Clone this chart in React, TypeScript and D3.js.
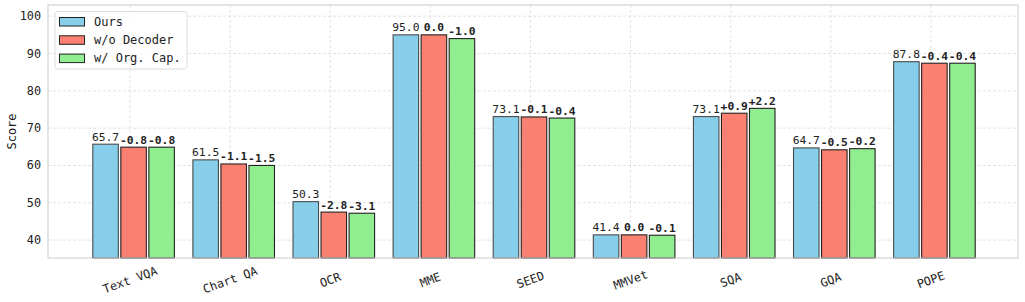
import React from "react";
import * as d3 from "d3";

const categories = ["Text VQA", "Chart QA", "OCR", "MME", "SEED", "MMVet", "SQA", "GQA", "POPE"];
const oursValues = [65.7, 61.5, 50.3, 95.0, 73.1, 41.4, 73.1, 64.7, 87.8];
const noDecoderDelta = [-0.8, -1.1, -2.8, 0.0, -0.1, 0.0, 0.9, -0.5, -0.4];
const orgCapDelta = [-0.8, -1.5, -3.1, -1.0, -0.4, -0.1, 2.2, -0.2, -0.4];
const seriesNames = ["Ours", "w/o Decoder", "w/ Org. Cap."];
const seriesColors = ["#87CEEB", "#FA8072", "#90EE90"];
const yTicks = [40, 50, 60, 70, 80, 90, 100];

const W = 1025, H = 302;
const left = 48, right = 1018, top = 5, bottom = 258;
const FONT = "'DejaVu Sans Mono', monospace";

function fmtDelta(d: number) {
  if (d === 0) return "0.0";
  return (d > 0 ? "+" : "") + d.toFixed(1);
}

export default function App() {
  const x = d3.scaleLinear().domain([-0.82, 8.87]).range([left, right]);
  const y = d3.scaleLinear().domain([35.2, 103]).range([bottom, top]);
  const unit = x(1) - x(0);
  const barW = 0.255 * unit;
  const step = 0.28;
  const shift = 0.035;

  const series = [
    oursValues,
    oursValues.map((v, i) => +(v + noDecoderDelta[i]).toFixed(1)),
    oursValues.map((v, i) => +(v + orgCapDelta[i]).toFixed(1)),
  ];
  const labels = [
    oursValues.map((v) => v.toFixed(1)),
    noDecoderDelta.map(fmtDelta),
    orgCapDelta.map(fmtDelta),
  ];

  return (
    <svg width={W} height={H} style={{ position: "absolute", left: 0, top: 0, background: "#fff" }} fontFamily={FONT}>
      <rect x={left} y={top} width={right - left} height={bottom - top} fill="#fff" />
      {yTicks.map((t) => (
        <line key={"gy" + t} x1={left} x2={right} y1={y(t)} y2={y(t)} stroke="#dcdcdc" strokeWidth={0.8} strokeDasharray="3,2" />
      ))}
      {categories.map((c, i) => (
        <line key={"gx" + c} x1={x(i)} x2={x(i)} y1={top} y2={bottom} stroke="#dcdcdc" strokeWidth={0.8} strokeDasharray="3,2" />
      ))}
      {series.map((vals, k) =>
        vals.map((v, i) => {
          const cx = x(i + shift + (k - 1) * step);
          return (
            <g key={`b${k}-${i}`}>
              <rect x={cx - barW / 2} y={y(v)} width={barW} height={bottom - y(v)} fill={seriesColors[k]} stroke={k === 0 ? "#4a4a4a" : "#222"} strokeWidth={1.1} />
              <text x={cx} y={y(v) - 3.5} textAnchor="middle" fontSize={11.3} fontWeight={k === 0 ? "normal" : "bold"} fill="#222">
                {labels[k][i]}
              </text>
            </g>
          );
        })
      )}
      <rect x={left} y={top} width={right - left} height={bottom - top} fill="none" stroke="#cccccc" strokeWidth={1} />
      {yTicks.map((t) => (
        <text key={"ty" + t} x={41} y={y(t)} textAnchor="end" dominantBaseline="central" fontSize={11.8} fill="#222">
          {t}
        </text>
      ))}
      {categories.map((c, i) => (
        <text key={"tx" + c} x={0} y={0} textAnchor="middle" dominantBaseline="central" fontSize={11.8} fill="#222"
          transform={`translate(${x(i)},${280}) rotate(-20)`}>
          {c}
        </text>
      ))}
      <text transform={`translate(12,${(top + bottom) / 2}) rotate(-90)`} textAnchor="middle" dominantBaseline="central" fontSize={12} fill="#222">
        Score
      </text>
      <g>
        <rect x={55} y={11.5} width={132} height={57.5} rx={3} fill="#fff" fillOpacity={0.85} stroke="#dddddd" />
        {seriesNames.map((n, k) => (
          <g key={n}>
            <rect x={59.5} y={17.5 + k * 18.3} width={25} height={8.5} fill={seriesColors[k]} stroke="#222" strokeWidth={1} />
            <text x={94} y={21.8 + k * 18.3} dominantBaseline="central" fontSize={12} fill="#222">
              {n}
            </text>
          </g>
        ))}
      </g>
    </svg>
  );
}
